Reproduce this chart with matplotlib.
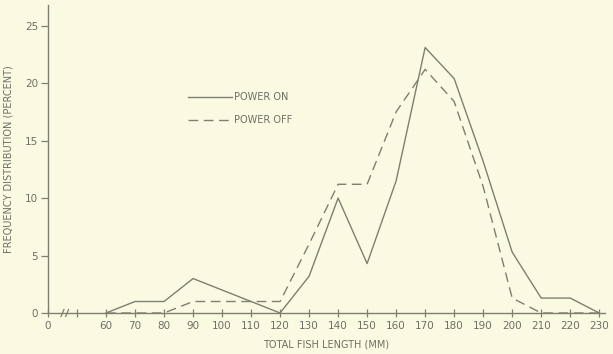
import numpy as np
import matplotlib
matplotlib.use("Agg")
import matplotlib.pyplot as plt

# Length classes (mm) and percent frequency for each sampling condition
lengths = [60, 70, 80, 90, 100, 110, 120, 130, 140, 150, 160, 170, 180, 190, 200, 210, 220, 230]
power_on = [0, 1.0, 1.0, 3.0, 2.0, 1.0, 0, 3.2, 10.0, 4.3, 11.5, 23.1, 20.4, 13.2, 5.3, 1.3, 1.3, 0]
power_off = [0, 0, 0, 1.0, 1.0, 1.0, 1.0, 6.0, 11.2, 11.2, 17.5, 21.2, 18.4, 11.0, 1.3, 0, 0, 0]

y_ticks = [0, 5, 10, 15, 20, 25]
x_ticks = [40, 50] + list(range(60, 240, 10))
x_labels = ["0", ""] + [str(v) for v in range(60, 240, 10)]

bg = "#fcf9e3"
ink = "#7f7f70"
txt = "#6e6e62"

fig = plt.figure(figsize=(6.13, 3.54), dpi=100, facecolor=bg)
ax = fig.add_axes([48 / 613, 41 / 354, 557 / 613, 308 / 354], facecolor=bg)

ax.plot(lengths, power_on, color=ink, lw=1.0, label="POWER ON")
ax.plot(lengths, power_off, color=ink, lw=1.0, dashes=(7, 4), label="POWER OFF")

ax.set_xlim(40, 232)
ax.set_ylim(0, 26.8)

for s in ["top", "right"]:
    ax.spines[s].set_visible(False)
for s in ["left", "bottom"]:
    ax.spines[s].set_color(ink)
    ax.spines[s].set_linewidth(1.0)

ax.set_xticks(x_ticks)
ax.set_xticklabels(x_labels)
ax.set_yticks(y_ticks)
ax.tick_params(axis="x", direction="inout", length=6, width=0.9, color=ink,
               labelsize=7.5, labelcolor=txt, pad=3)
ax.tick_params(axis="y", direction="out", length=5, width=0.9, color=ink,
               labelsize=7.5, labelcolor=txt, pad=2)

# break marks on the length axis
for xb in (45.0, 46.6):
    ax.plot([xb - 0.5, xb + 0.5], [-0.3, 0.3], color=ink, lw=0.9, clip_on=False)

ax.set_xlabel("TOTAL FISH LENGTH (MM)", fontsize=7, color=txt, labelpad=6)
ax.set_ylabel("FREQUENCY DISTRIBUTION (PERCENT)", fontsize=7, color=txt, labelpad=8)

leg = ax.legend(loc="upper left", bbox_to_anchor=(0.235, 0.745), frameon=False,
                fontsize=7, handlelength=4.6, handletextpad=0.15, labelspacing=1.35,
                labelcolor=txt)

fig.savefig("out.png", dpi=100, facecolor=bg)
